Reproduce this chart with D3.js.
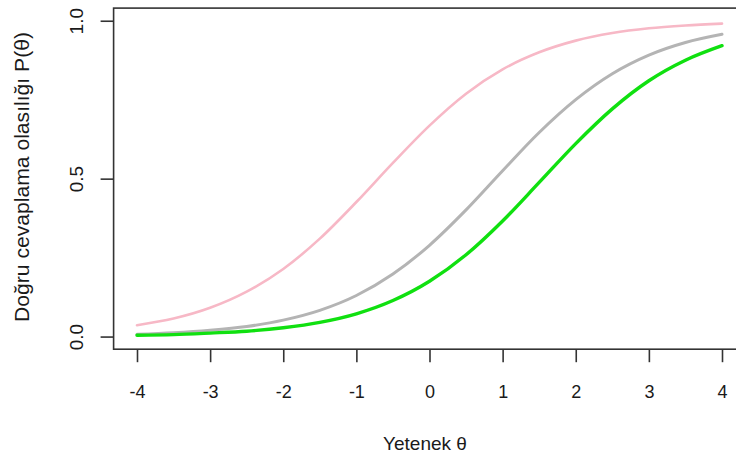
<!DOCTYPE html>
<html>
<head>
<meta charset="utf-8">
<script src="https://cdn.jsdelivr.net/npm/d3@7"></script>
<style>
  body { margin: 0; background: #fff; }
  text { font-family: "Liberation Sans", Arial, sans-serif; fill: #1a1a1a; }
</style>
</head>
<body>
<div id="chart"></div>
<script>
var theta = [-4, -3.5, -3, -2.5, -2, -1.5, -1, -0.5, 0, 0.5, 1, 1.5, 2, 2.5, 3, 3.5, 4];

// P(theta) read for each item curve
var pinkItem  = [0.036, 0.057, 0.091, 0.142, 0.214, 0.310, 0.426, 0.550, 0.668, 0.769, 0.846, 0.900, 0.937, 0.961, 0.976, 0.985, 0.991];
var grayItem  = [0.007, 0.012, 0.020, 0.032, 0.052, 0.083, 0.130, 0.198, 0.289, 0.401, 0.525, 0.646, 0.750, 0.832, 0.891, 0.931, 0.957];
var greenItem = [0.004, 0.006, 0.011, 0.017, 0.028, 0.045, 0.072, 0.114, 0.175, 0.259, 0.366, 0.488, 0.611, 0.721, 0.810, 0.875, 0.921];

var xTicks = [-4, -3, -2, -1, 0, 1, 2, 3, 4];
var yTicks = [0, 0.5, 1];

var width = 736, height = 458;

var svg = d3.select("#chart").append("svg")
    .attr("width", width)
    .attr("height", height);

// R style axes: range padded 4% on each side
var x = d3.scaleLinear()
    .domain([-4.32, 4.32])
    .range([113.6, 745.4]);

var y = d3.scaleLinear()
    .domain([-0.04, 1.04])
    .range([349.2, 8.1]);

var series = [
  {values: pinkItem,  color: "#f7b8c6", w: 2.6},
  {values: grayItem,  color: "#b4b4b4", w: 3},
  {values: greenItem, color: "#10e010", w: 3.4}
];

var line = d3.line()
    .x(function(d, i) { return x(theta[i]); })
    .y(function(d) { return y(d); })
    .curve(d3.curveMonotoneX);

svg.selectAll(".curve")
    .data(series)
  .enter().append("path")
    .attr("class", "curve")
    .attr("d", function(s) { return line(s.values); })
    .attr("fill", "none")
    .attr("stroke", function(s) { return s.color; })
    .attr("stroke-width", function(s) { return s.w; })
    .attr("stroke-linecap", "round");

// plot box
svg.append("rect")
    .attr("x", x.range()[0])
    .attr("y", y.range()[1])
    .attr("width", x.range()[1] - x.range()[0])
    .attr("height", y.range()[0] - y.range()[1])
    .attr("fill", "none")
    .attr("stroke", "#333")
    .attr("stroke-width", 1.6);

// x axis
var xAxis = svg.append("g")
    .attr("transform", "translate(0," + y.range()[0] + ")")
    .call(d3.axisBottom(x).tickValues(xTicks).tickSize(13).tickPadding(23)
      .tickFormat(function(d) { return d < 0 ? "-" + Math.abs(d) : d; }));
xAxis.select(".domain").remove();
xAxis.selectAll("line").attr("stroke", "#333").attr("stroke-width", 1.6);
xAxis.selectAll("text").attr("font-size", 18).attr("fill", "#1a1a1a")
    .attr("font-family", "Liberation Sans, Arial, sans-serif");

// y axis, labels turned like in R
var yAxis = svg.append("g")
    .attr("transform", "translate(" + x.range()[0] + ",0)")
    .call(d3.axisLeft(y).tickValues(yTicks).tickSize(13)
      .tickFormat(d3.format(".1f")));
yAxis.select(".domain").remove();
yAxis.selectAll("line").attr("stroke", "#333").attr("stroke-width", 1.6);
yAxis.selectAll("text")
    .attr("font-size", 19).attr("fill", "#1a1a1a")
    .attr("font-family", "Liberation Sans, Arial, sans-serif")
    .attr("x", 0).attr("dy", 0)
    .attr("text-anchor", "middle")
    .attr("transform", "translate(-31,0) rotate(-90)");

// axis titles
svg.append("text")
    .attr("x", 425)
    .attr("y", 450)
    .attr("text-anchor", "middle")
    .attr("font-size", 19)
    .text("Yetenek θ");

svg.append("text")
    .attr("transform", "translate(29,177) rotate(-90)")
    .attr("text-anchor", "middle")
    .attr("font-size", 20)
    .attr("textLength", 290)
    .attr("lengthAdjust", "spacingAndGlyphs")
    .text("Doğru cevaplama olasılığı P(θ)");
</script>
</body>
</html>
